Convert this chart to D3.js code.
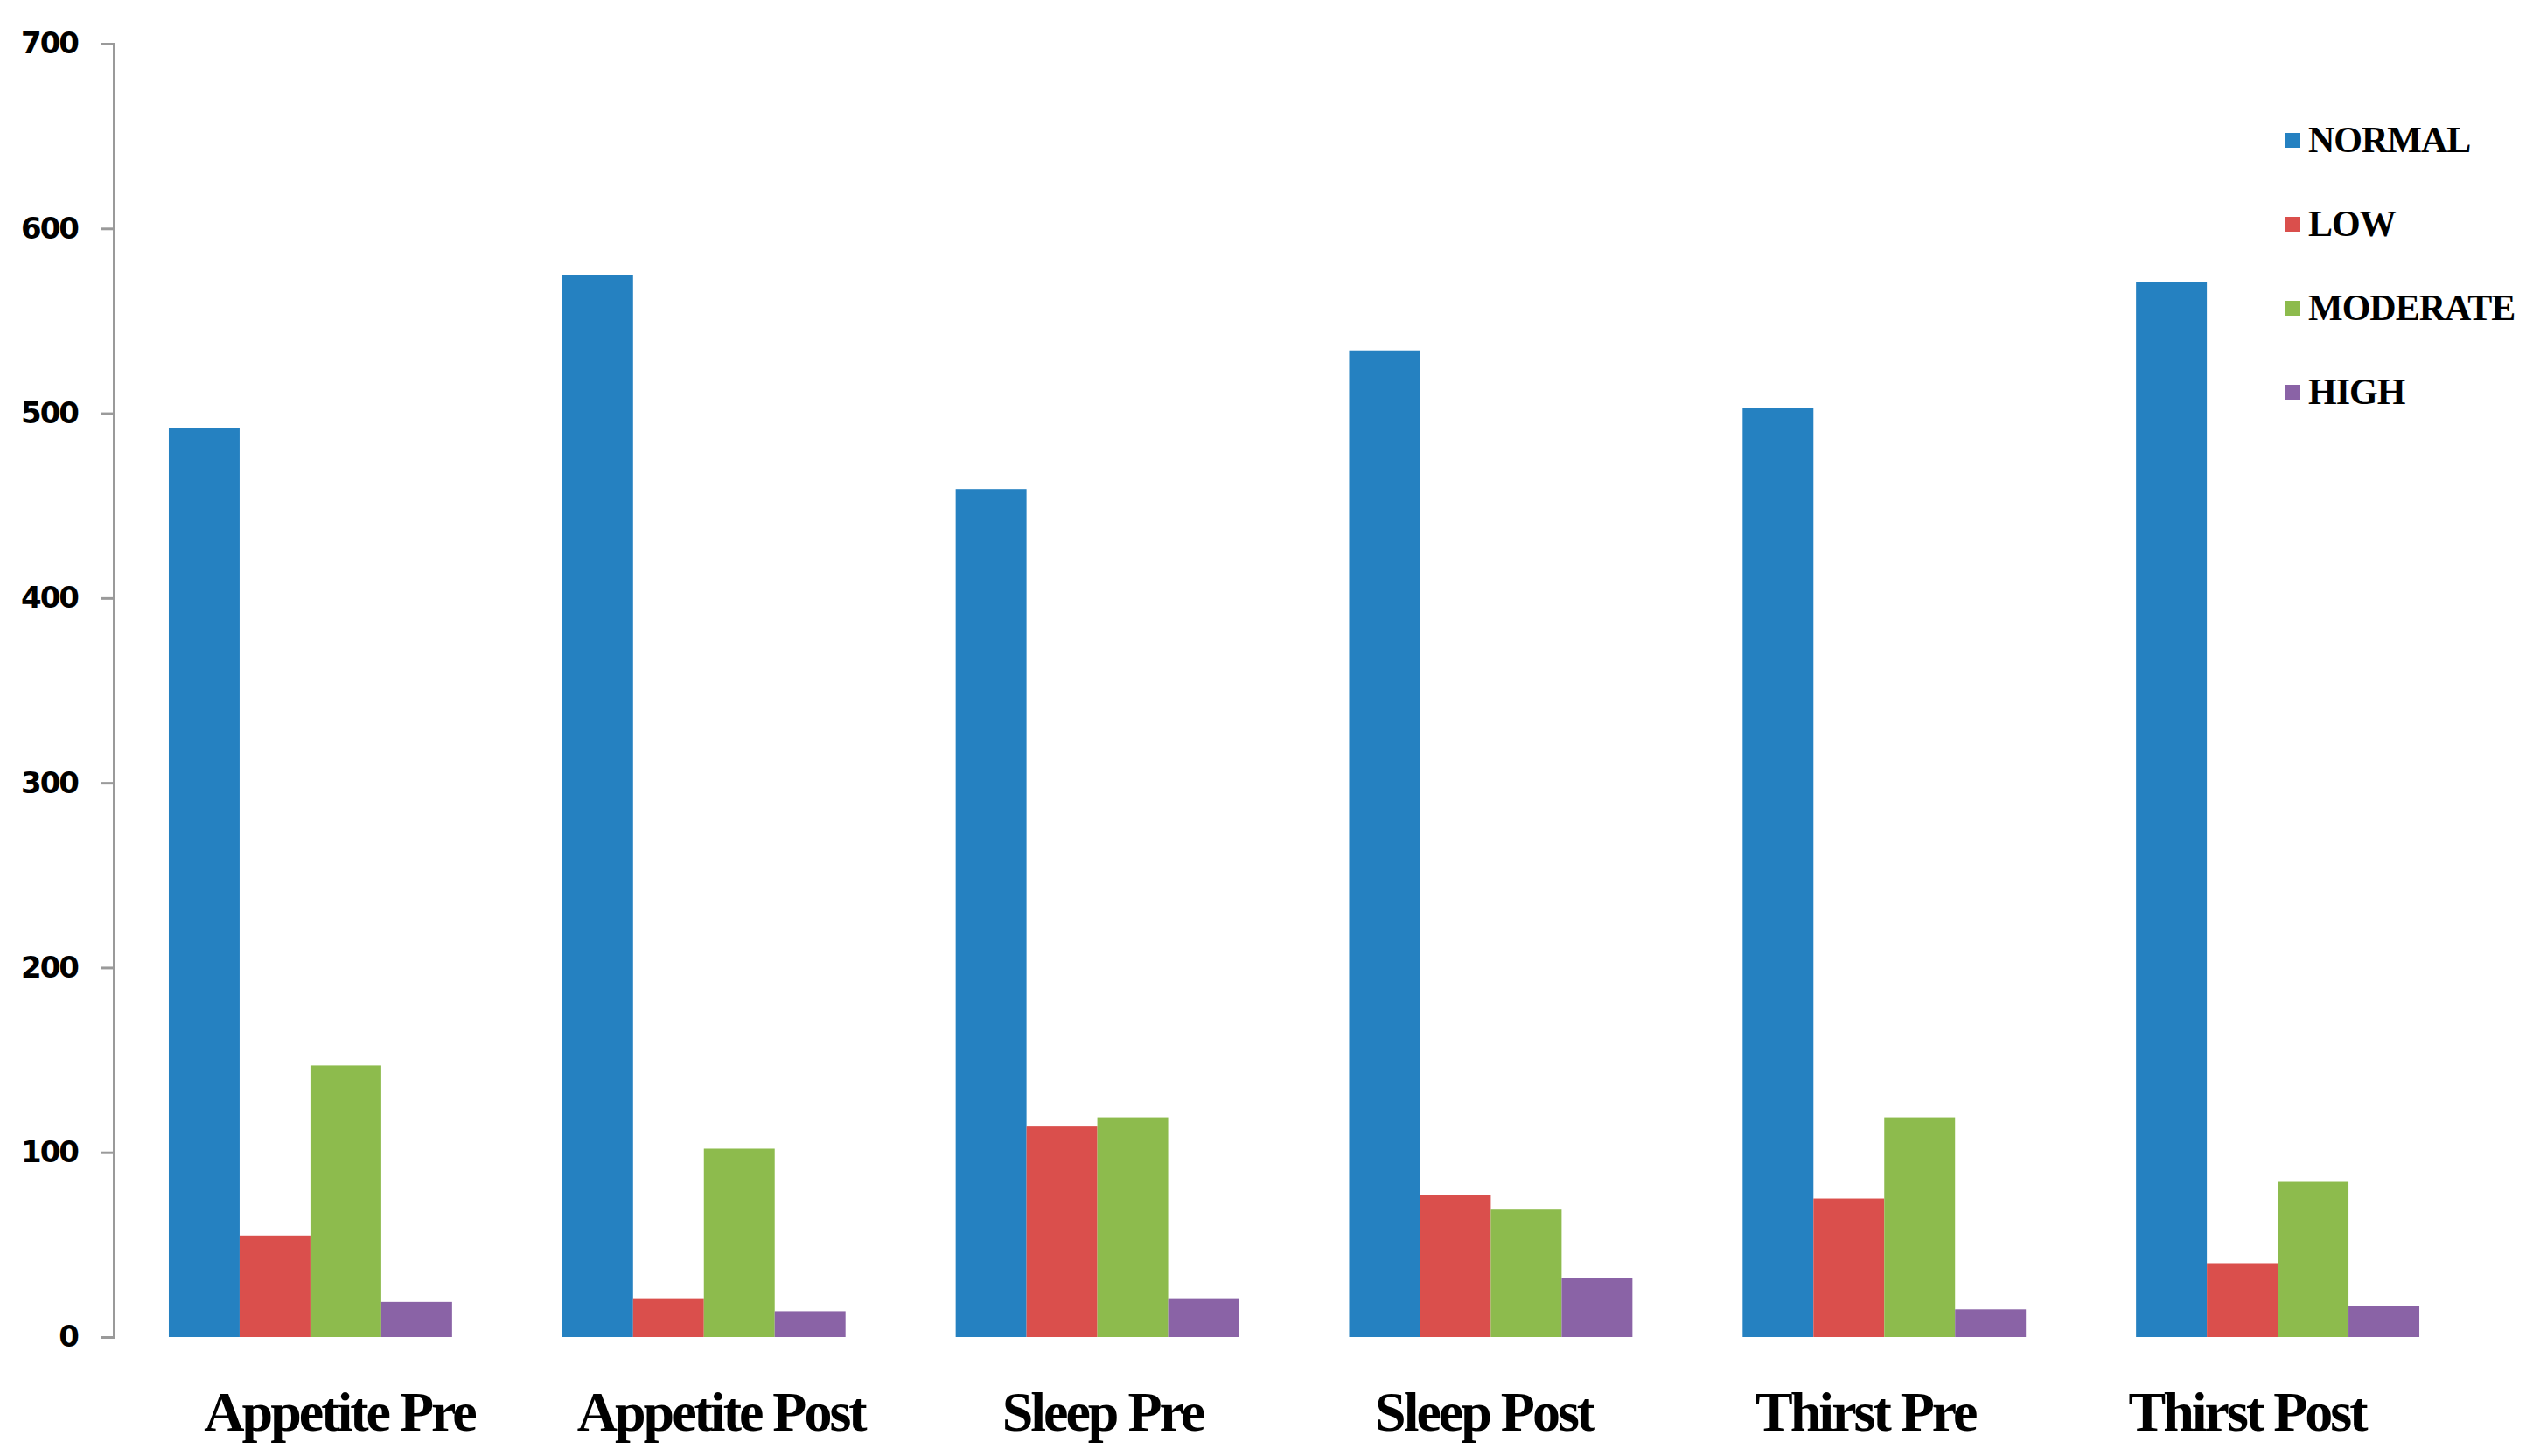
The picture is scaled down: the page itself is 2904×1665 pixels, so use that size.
<!DOCTYPE html>
<html>
<head>
<meta charset="utf-8">
<script src="https://cdn.jsdelivr.net/npm/d3@7"></script>
<style>
  html, body { margin: 0; padding: 0; background: #fff; }
</style>
</head>
<body>
<div class="canvas"></div>
<script>
// chart values
const categories = ["Appetite Pre", "Appetite Post", "Sleep Pre", "Sleep Post", "Thirst Pre", "Thirst Post"];
const seriesNames = ["NORMAL", "LOW", "MODERATE", "HIGH"];
const normal = [492, 575, 459, 534, 503, 571];
const low = [55, 21, 114, 77, 75, 40];
const moderate = [147, 102, 119, 69, 119, 84];
const high = [19, 14, 21, 32, 15, 17];
const yTicks = [0, 100, 200, 300, 400, 500, 600, 700];

const seriesValues = [normal, low, moderate, high];
const colors = ["#2581c1", "#da4f4c", "#8dbb4d", "#8a63a6"];

const dims = { width: 2904, height: 1665 };
const plot = { left: 130, right: 2829, top: 50, bottom: 1529 };

const svg = d3
  .select(".canvas")
  .append("svg")
  .attr("width", dims.width)
  .attr("height", dims.height);

// scales
const x0 = d3
  .scaleBand()
  .domain(categories)
  .range([plot.left, plot.right])
  .paddingInner(0.28)
  .paddingOuter(0.14);

const x1 = d3
  .scaleBand()
  .domain(seriesNames)
  .range([0, x0.bandwidth()]);

// labels sit a little off the group centres in the original
const xLabel = d3.scalePoint().domain(categories).range([388, 2569]);

const y = d3.scaleLinear().domain([0, 700]).range([plot.bottom, plot.top]);

const color = d3.scaleOrdinal().domain(seriesNames).range(colors);

// y axis
const yAxis = d3.axisLeft(y).tickValues(yTicks).tickSize(15).tickPadding(26);

const yG = svg
  .append("g")
  .attr("transform", `translate(${plot.left}, 0)`)
  .call(yAxis);

yG.select(".domain").attr("stroke", "#9a9a9a").attr("stroke-width", 3);
yG.selectAll(".tick line").attr("stroke", "#9a9a9a").attr("stroke-width", 3);
yG.selectAll(".tick text")
  .attr("fill", "#000")
  .attr("font-family", "DejaVu Sans")
  .attr("font-weight", "bold")
  .attr("font-size", 34)
  .attr("letter-spacing", -2);

// rows of data for grouped bars
const rows = categories.map((cat, i) => ({
  cat,
  values: seriesNames.map((name, j) => ({ name, value: seriesValues[j][i] })),
}));

const groups = svg
  .append("g")
  .selectAll("g")
  .data(rows)
  .enter()
  .append("g")
  .attr("transform", (d) => `translate(${x0(d.cat)}, 0)`);

groups
  .selectAll("rect")
  .data((d) => d.values)
  .enter()
  .append("rect")
  .attr("x", (d) => x1(d.name))
  .attr("y", (d) => y(d.value))
  .attr("width", x1.bandwidth())
  .attr("height", (d) => y(0) - y(d.value))
  .attr("fill", (d) => color(d.name));

// category labels
svg
  .append("g")
  .selectAll("text")
  .data(categories)
  .enter()
  .append("text")
  .attr("x", (d) => xLabel(d))
  .attr("y", 1636)
  .attr("text-anchor", "middle")
  .attr("font-family", "Liberation Serif")
  .attr("font-weight", "bold")
  .attr("font-size", 64)
  .attr("letter-spacing", -3)
  .attr("fill", "#000")
  .text((d) => d);

// legend
const legend = svg
  .append("g")
  .attr("transform", "translate(2613, 160)");

const items = legend
  .selectAll("g")
  .data(seriesNames)
  .enter()
  .append("g")
  .attr("transform", (d, i) => `translate(0, ${i * 96})`);

items
  .append("rect")
  .attr("x", 0)
  .attr("y", -8)
  .attr("width", 17)
  .attr("height", 17)
  .attr("fill", (d) => color(d));

items
  .append("text")
  .attr("x", 26)
  .attr("y", 14)
  .attr("font-family", "Liberation Serif")
  .attr("font-weight", "bold")
  .attr("font-size", 42)
  .attr("letter-spacing", -1)
  .attr("fill", "#000")
  .text((d) => d);
</script>
</body>
</html>
